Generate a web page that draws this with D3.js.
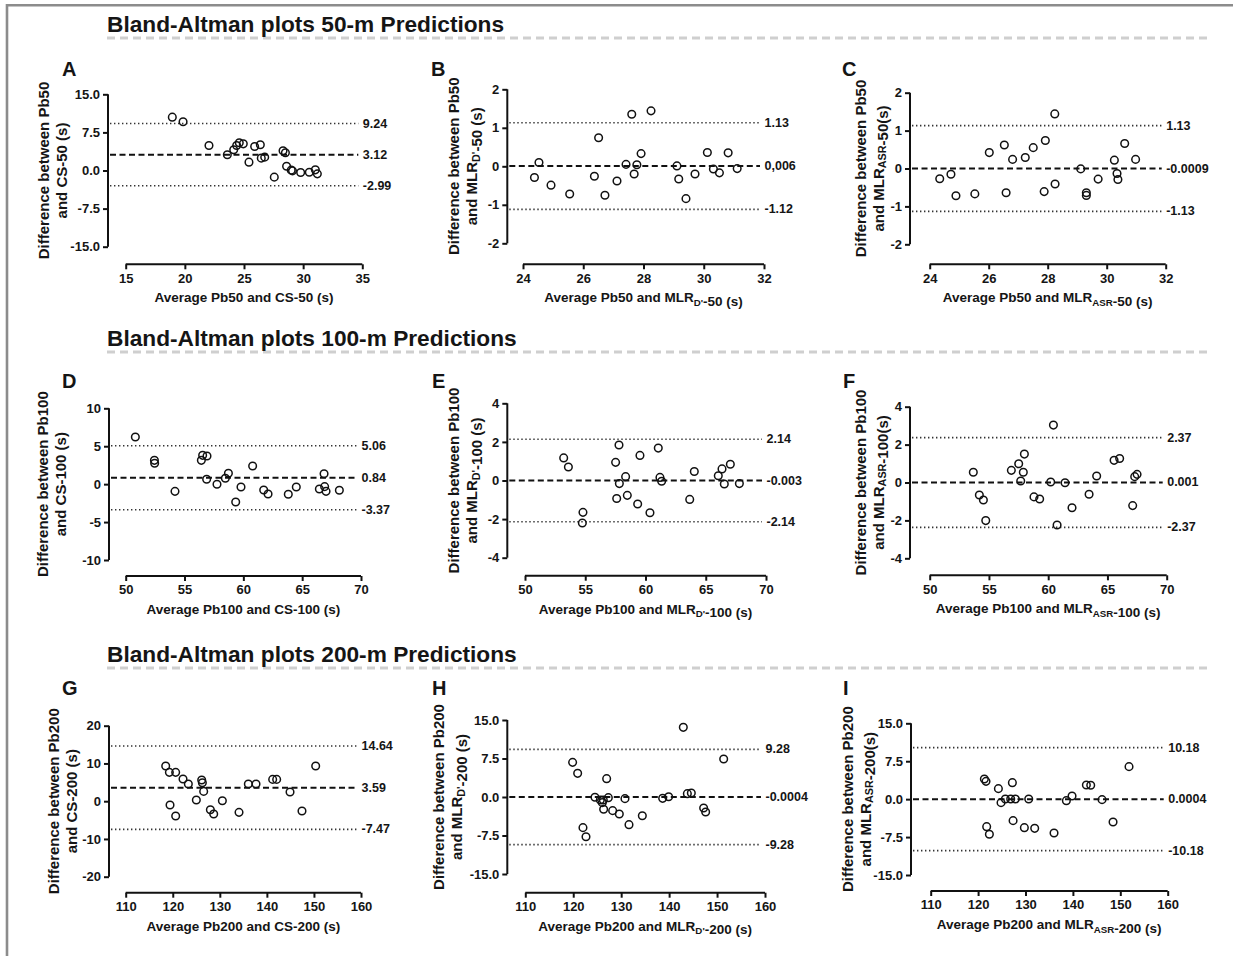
<!DOCTYPE html>
<html>
<head>
<meta charset="utf-8">
<script src="https://cdn.jsdelivr.net/npm/d3@7"></script>
<style>
  html, body { margin: 0; padding: 0; background: #fff; }
  svg { display: block; }
  text { font-family: "Liberation Sans", Arial, sans-serif; fill: #151515; }
</style>
</head>
<body>
<svg id="fig" width="1233" height="956"></svg>
<script>
// ---- Data: average (x) and difference (y) for each comparison ----
const cs50Avg = [18.94,19.85,22.04,23.59,24.13,24.38,24.6,24.94,25.42,25.9,26.38,26.46,26.75,27.56,28.3,28.5,28.6,28.99,29.1,29.79,30.52,31.03,31.2];
const cs50Diff = [10.5,9.59,4.92,3.09,4.07,4.92,5.45,5.25,1.64,4.73,5.06,2.43,2.63,-1.31,3.87,3.48,0.85,0.07,-0.07,-0.39,-0.33,0.13,-0.66];

const mlrD50Avg = [24.38,24.53,24.93,25.55,26.37,26.51,26.72,27.12,27.42,27.61,27.69,27.78,27.92,28.25,29.11,29.17,29.41,29.71,30.12,30.32,30.52,30.81,31.11];
const mlrD50Diff = [-0.29,0.10,-0.49,-0.72,-0.26,0.74,-0.75,-0.38,0.05,1.35,-0.20,0.04,0.33,1.44,0.01,-0.33,-0.84,-0.20,0.36,-0.07,-0.17,0.35,-0.06];

const asr50Avg = [24.34,24.72,24.89,25.53,26.02,26.53,26.59,26.81,27.24,27.51,27.88,27.92,28.24,28.25,29.12,29.31,29.31,29.71,30.26,30.35,30.38,30.61,30.98];
const asr50Diff = [-0.27,-0.15,-0.72,-0.67,0.42,0.62,-0.64,0.24,0.29,0.55,-0.61,0.74,1.44,-0.41,-0.01,-0.64,-0.71,-0.28,0.22,-0.13,-0.29,0.66,0.24];

const cs100Avg = [50.82,52.44,52.46,54.19,56.43,56.54,56.91,56.88,57.76,58.47,58.73,59.35,59.8,60.79,61.73,62.1,63.82,64.5,66.46,66.86,66.91,67.03,68.16];
const cs100Diff = [6.22,3.14,2.75,-0.95,3.14,3.8,3.71,0.64,-0.02,0.77,1.43,-2.35,-0.37,2.4,-0.77,-1.3,-1.34,-0.37,-0.64,1.38,-0.33,-0.95,-0.81];

const mlrD100Avg = [53.21,53.6,54.81,54.76,57.52,57.61,57.8,57.83,58.35,58.49,59.35,59.54,60.37,61.06,61.2,61.34,63.67,64.05,66.04,66.35,66.54,67.04,67.79];
const mlrD100Diff = [1.17,0.70,-1.65,-2.2,0.94,-0.93,1.84,-0.16,0.2,-0.77,-1.22,1.30,-1.67,1.68,0.16,-0.04,-0.98,0.47,0.25,0.6,-0.18,0.84,-0.16];

const asr100Avg = [53.68,54.19,54.53,54.73,56.89,57.51,57.68,57.9,57.99,58.8,59.28,60.21,60.44,60.75,61.42,62.01,63.45,64.09,65.56,66.03,67.13,67.3,67.5];
const asr100Diff = [0.54,-0.66,-0.92,-2.01,0.64,0.99,0.08,0.54,1.5,-0.76,-0.87,0.03,3.03,-2.24,-0.01,-1.33,-0.62,0.34,1.17,1.27,-1.22,0.31,0.43];

const cs200Avg = [118.5,119.28,119.42,120.62,120.62,122.18,123.31,125.01,126.15,126.29,126.57,127.99,128.7,130.54,134.08,136.06,137.69,141.23,142.08,144.92,147.46,150.37];
const cs200Diff = [9.32,7.64,-1.02,7.64,-3.93,5.87,4.55,0.31,5.61,4.9,2.6,-2.25,-3.4,0.13,-2.96,4.55,4.55,5.78,5.78,2.43,-2.6,9.32];

const mlrD200Avg = [119.87,120.92,122.03,122.66,124.53,125.65,126.06,126.27,126.34,126.97,127.32,128.22,129.61,130.79,131.63,134.41,138.65,139.9,142.96,143.8,144.63,147.2,147.62,151.38];
const mlrD200Diff = [6.75,4.61,-5.97,-7.73,-0.06,-0.58,-1.1,-0.58,-2.4,3.57,-0.13,-2.66,-3.31,-0.32,-5.39,-3.64,-0.26,0.06,13.57,0.65,0.78,-2.14,-2.92,7.4];

const asr200Avg = [121.32,121.67,121.81,122.38,124.28,124.84,125.75,126.88,127.23,127.38,127.87,129.76,130.68,131.94,136.02,138.62,139.82,142.84,143.76,146.15,148.47,151.84];
const asr200Diff = [3.99,3.52,-5.44,-6.95,2.08,-0.69,0.03,0.03,3.26,-4.25,0.03,-5.64,0.03,-5.77,-6.69,-0.3,0.63,2.8,2.74,-0.1,-4.52,6.43];

// ---- Bias and limits of agreement (upper, mean, lower) with printed labels ----
const cs50Limits = [9.24, 3.12, -2.99];        const cs50LimitLabels = ["9.24", "3.12", "-2.99"];
const mlrD50Limits = [1.13, 0.006, -1.12];     const mlrD50LimitLabels = ["1.13", "0,006", "-1.12"];
const asr50Limits = [1.13, -0.0009, -1.13];    const asr50LimitLabels = ["1.13", "-0.0009", "-1.13"];
const cs100Limits = [5.06, 0.84, -3.37];       const cs100LimitLabels = ["5.06", "0.84", "-3.37"];
const mlrD100Limits = [2.14, -0.003, -2.14];   const mlrD100LimitLabels = ["2.14", "-0.003", "-2.14"];
const asr100Limits = [2.37, 0.001, -2.37];     const asr100LimitLabels = ["2.37", "0.001", "-2.37"];
const cs200Limits = [14.64, 3.59, -7.47];      const cs200LimitLabels = ["14.64", "3.59", "-7.47"];
const mlrD200Limits = [9.28, -0.0004, -9.28];  const mlrD200LimitLabels = ["9.28", "-0.0004", "-9.28"];
const asr200Limits = [10.18, 0.0004, -10.18];  const asr200LimitLabels = ["10.18", "0.0004", "-10.18"];

// ---- Axis ticks ----
const ticks50CSY = [-15, -7.5, 0, 7.5, 15];
const ticks50CSX = [15, 20, 25, 30, 35];
const ticks50Y = [-2, -1, 0, 1, 2];
const ticks50X = [24, 26, 28, 30, 32];
const ticks100CSY = [-10, -5, 0, 5, 10];
const ticks100Y = [-4, -2, 0, 2, 4];
const ticks100X = [50, 55, 60, 65, 70];
const ticks200CSY = [-20, -10, 0, 10, 20];
const ticks200Y = [-15, -7.5, 0, 7.5, 15];
const ticks200X = [110, 120, 130, 140, 150, 160];

// ---- Section headings ----
const sectionTitles = [
  "Bland-Altman plots 50-m Predictions",
  "Bland-Altman plots 100-m Predictions",
  "Bland-Altman plots 200-m Predictions"
];

// ---- Panel definitions (text uses _{...} for subscripts) ----
const panels = [
  { letter: "A", avg: cs50Avg, diff: cs50Diff, lim: cs50Limits, limLab: cs50LimitLabels,
    yTicks: ticks50CSY, xTicks: ticks50CSX, yFmt: ".1f",
    yTitle: ["Difference between Pb50", "and CS-50 (s)"], xTitle: "Average Pb50 and CS-50 (s)" },
  { letter: "B", avg: mlrD50Avg, diff: mlrD50Diff, lim: mlrD50Limits, limLab: mlrD50LimitLabels,
    yTicks: ticks50Y, xTicks: ticks50X, yFmt: "d",
    yTitle: ["Difference between Pb50", "and MLR_{D'}-50 (s)"], xTitle: "Average Pb50 and MLR_{D'}-50 (s)" },
  { letter: "C", avg: asr50Avg, diff: asr50Diff, lim: asr50Limits, limLab: asr50LimitLabels,
    yTicks: ticks50Y, xTicks: ticks50X, yFmt: "d",
    yTitle: ["Difference between Pb50", "and MLR_{ASR}-50(s)"], xTitle: "Average Pb50 and MLR_{ASR}-50 (s)" },
  { letter: "D", avg: cs100Avg, diff: cs100Diff, lim: cs100Limits, limLab: cs100LimitLabels,
    yTicks: ticks100CSY, xTicks: ticks100X, yFmt: "d",
    yTitle: ["Difference between Pb100", "and CS-100 (s)"], xTitle: "Average Pb100 and CS-100 (s)" },
  { letter: "E", avg: mlrD100Avg, diff: mlrD100Diff, lim: mlrD100Limits, limLab: mlrD100LimitLabels,
    yTicks: ticks100Y, xTicks: ticks100X, yFmt: "d",
    yTitle: ["Difference between Pb100", "and MLR_{D'}-100 (s)"], xTitle: "Average Pb100 and MLR_{D'}-100 (s)" },
  { letter: "F", avg: asr100Avg, diff: asr100Diff, lim: asr100Limits, limLab: asr100LimitLabels,
    yTicks: ticks100Y, xTicks: ticks100X, yFmt: "d",
    yTitle: ["Difference between Pb100", "and MLR_{ASR}-100(s)"], xTitle: "Average Pb100 and MLR_{ASR}-100 (s)" },
  { letter: "G", avg: cs200Avg, diff: cs200Diff, lim: cs200Limits, limLab: cs200LimitLabels,
    yTicks: ticks200CSY, xTicks: ticks200X, yFmt: "d",
    yTitle: ["Difference between Pb200", "and CS-200 (s)"], xTitle: "Average Pb200 and CS-200 (s)" },
  { letter: "H", avg: mlrD200Avg, diff: mlrD200Diff, lim: mlrD200Limits, limLab: mlrD200LimitLabels,
    yTicks: ticks200Y, xTicks: ticks200X, yFmt: ".1f",
    yTitle: ["Difference between Pb200", "and MLR_{D'}-200  (s)"], xTitle: "Average Pb200 and MLR_{D'}-200 (s)" },
  { letter: "I", avg: asr200Avg, diff: asr200Diff, lim: asr200Limits, limLab: asr200LimitLabels,
    yTicks: ticks200Y, xTicks: ticks200X, yFmt: ".1f",
    yTitle: ["Difference between Pb200", "and MLR_{ASR}-200(s)"], xTitle: "Average Pb200 and MLR_{ASR}-200 (s)" }
];

// ---- Layout (pixel geometry of each panel) ----
const layout = [
  { ax: 108,   yTop: 94.3,  yBot: 246.7, xL: 125.7, xR: 362.3,  xAxisY: 264.3, lx: 62,  ly: 76,  tdx: -65 },
  { ax: 507.3, yTop: 89.3,  yBot: 243.3, xL: 523,   xR: 764,    xAxisY: 264.3, lx: 431, ly: 76,  tdx: -54 },
  { ax: 910,   yTop: 92.7,  yBot: 244.3, xL: 929.7, xR: 1165.7, xAxisY: 264.3, lx: 842, ly: 76,  tdx: -50 },
  { ax: 109,   yTop: 408.3, yBot: 560,   xL: 125.7, xR: 361,    xAxisY: 576,   lx: 62,  ly: 388, tdx: -67 },
  { ax: 507.3, yTop: 403.3, yBot: 557.7, xL: 525,   xR: 766,    xAxisY: 575.7, lx: 432, ly: 388, tdx: -54 },
  { ax: 910,   yTop: 406.7, yBot: 558.3, xL: 929.7, xR: 1166.7, xAxisY: 575.3, lx: 843, ly: 388, tdx: -50 },
  { ax: 109,   yTop: 725.7, yBot: 876.7, xL: 125.7, xR: 361,    xAxisY: 892.7, lx: 62,  ly: 695, tdx: -56 },
  { ax: 507.3, yTop: 720,   yBot: 874,   xL: 525.3, xR: 765,    xAxisY: 892.7, lx: 432, ly: 695, tdx: -69 },
  { ax: 911,   yTop: 723.3, yBot: 875,   xL: 930.7, xR: 1167.7, xAxisY: 891,   lx: 843, ly: 695, tdx: -64 }
];
const sectionLayout = [
  { x: 107, y: 32, lineY: 38 },
  { x: 107, y: 346, lineY: 352 },
  { x: 107, y: 662, lineY: 668 }
];

// Number formatting with a plain hyphen for negatives
const locale = d3.formatLocale({ decimal: ".", thousands: ",", grouping: [3], currency: ["", ""], minus: "-" });

const svg = d3.select("#fig");

// Frame
svg.append("line").attr("x1", 7).attr("x2", 1233).attr("y1", 5.3).attr("y2", 5.3)
  .attr("stroke", "#8c8c8c").attr("stroke-width", 2.6);
svg.append("line").attr("x1", 7).attr("x2", 7).attr("y1", 4).attr("y2", 956)
  .attr("stroke", "#8c8c8c").attr("stroke-width", 2.6);

// Section headings with grey dashed rule
sectionTitles.forEach((t, i) => {
  const s = sectionLayout[i];
  svg.append("line").attr("x1", s.x).attr("x2", 1207).attr("y1", s.lineY).attr("y2", s.lineY)
    .attr("stroke", "#cfcfcf").attr("stroke-width", 3).attr("stroke-dasharray", "8,5");
  svg.append("text").attr("x", s.x).attr("y", s.y)
    .attr("font-size", 22.7).attr("font-weight", "bold").text(t);
});

// Writes text with _{...} subscripts as tspans
function richText(sel, str, size) {
  const parts = str.split(/(_\{[^}]*\})/).filter(p => p.length);
  parts.forEach(p => {
    if (p.startsWith("_{")) {
      sel.append("tspan").attr("font-size", size * 0.72).attr("dy", size * 0.28).text(p.slice(2, -1));
      sel.append("tspan").attr("dy", -size * 0.28).text("");
    } else {
      sel.append("tspan").text(p);
    }
  });
}

panels.forEach((p, i) => {
  const L = layout[i];
  const g = svg.append("g");
  const yDom = d3.extent(p.yTicks);
  const xDom = d3.extent(p.xTicks);
  const y = d3.scaleLinear().domain(yDom).range([L.yBot, L.yTop]);
  const x = d3.scaleLinear().domain(xDom).range([L.xL, L.xR]);

  // Panel letter
  g.append("text").attr("x", L.lx).attr("y", L.ly)
    .attr("font-size", 20).attr("font-weight", "bold").text(p.letter);

  // Y axis
  const yAxis = d3.axisLeft(y).tickValues(p.yTicks).tickSize(5).tickPadding(3)
    .tickFormat(locale.format(p.yFmt));
  const ya = g.append("g").attr("transform", `translate(${L.ax},0)`).call(yAxis);
  // X axis (offset below the plot)
  const xAxis = d3.axisBottom(x).tickValues(p.xTicks).tickSize(5).tickPadding(4)
    .tickFormat(locale.format("d"));
  const xa = g.append("g").attr("transform", `translate(0,${L.xAxisY})`).call(xAxis);

  [ya, xa].forEach(a => {
    a.select(".domain").attr("stroke", "#111").attr("stroke-width", 2);
    a.selectAll(".tick line").attr("stroke", "#111").attr("stroke-width", 2);
    a.selectAll(".tick text").attr("font-size", 13).attr("font-weight", "bold")
      .attr("fill", "#151515").attr("font-family", "'Liberation Sans', Arial, sans-serif");
  });
  // Plain axis lines without end caps
  ya.select(".domain").attr("d", `M0,${L.yTop}V${L.yBot}`);
  xa.select(".domain").attr("d", `M${L.xL},0H${L.xR}`);

  // Limits of agreement (dotted) and bias (dashed)
  p.lim.forEach((v, k) => {
    const isMean = k === 1;
    g.append("line")
      .attr("x1", L.ax + 2).attr("x2", L.xR - 4)
      .attr("y1", y(v)).attr("y2", y(v))
      .attr("stroke", isMean ? "#111" : "#333")
      .attr("stroke-width", isMean ? 2 : 1.6)
      .attr("stroke-dasharray", isMean ? "6,3.5" : "1.4,2.6");
    g.append("text").attr("x", L.xR + 0.5).attr("y", y(v))
      .attr("dominant-baseline", "central")
      .attr("font-size", 12.5).attr("font-weight", "bold").text(p.limLab[k]);
  });

  // Points
  g.selectAll("circle.pt").data(p.avg.map((a, j) => [a, p.diff[j]])).enter()
    .append("circle").attr("class", "pt")
    .attr("cx", d => x(d[0])).attr("cy", d => y(d[1])).attr("r", 3.8)
    .attr("fill", "none").attr("stroke", "#111").attr("stroke-width", 1.5);

  // X title
  const xt = g.append("text").attr("x", (L.xL + L.xR) / 2).attr("y", L.xAxisY + 38)
    .attr("text-anchor", "middle").attr("font-size", 13.5).attr("font-weight", "bold");
  richText(xt, p.xTitle, 13.5);

  // Y title (two lines, rotated)
  const cy = (L.yTop + L.yBot) / 2;
  p.yTitle.forEach((line, k) => {
    const tx = L.ax + L.tdx + k * 18;
    const t = g.append("text")
      .attr("transform", `translate(${tx},${cy}) rotate(-90)`)
      .attr("text-anchor", "middle").attr("dominant-baseline", "central")
      .attr("font-size", 15).attr("font-weight", "bold");
    richText(t, line, 15);
  });
});
</script>
</body>
</html>
